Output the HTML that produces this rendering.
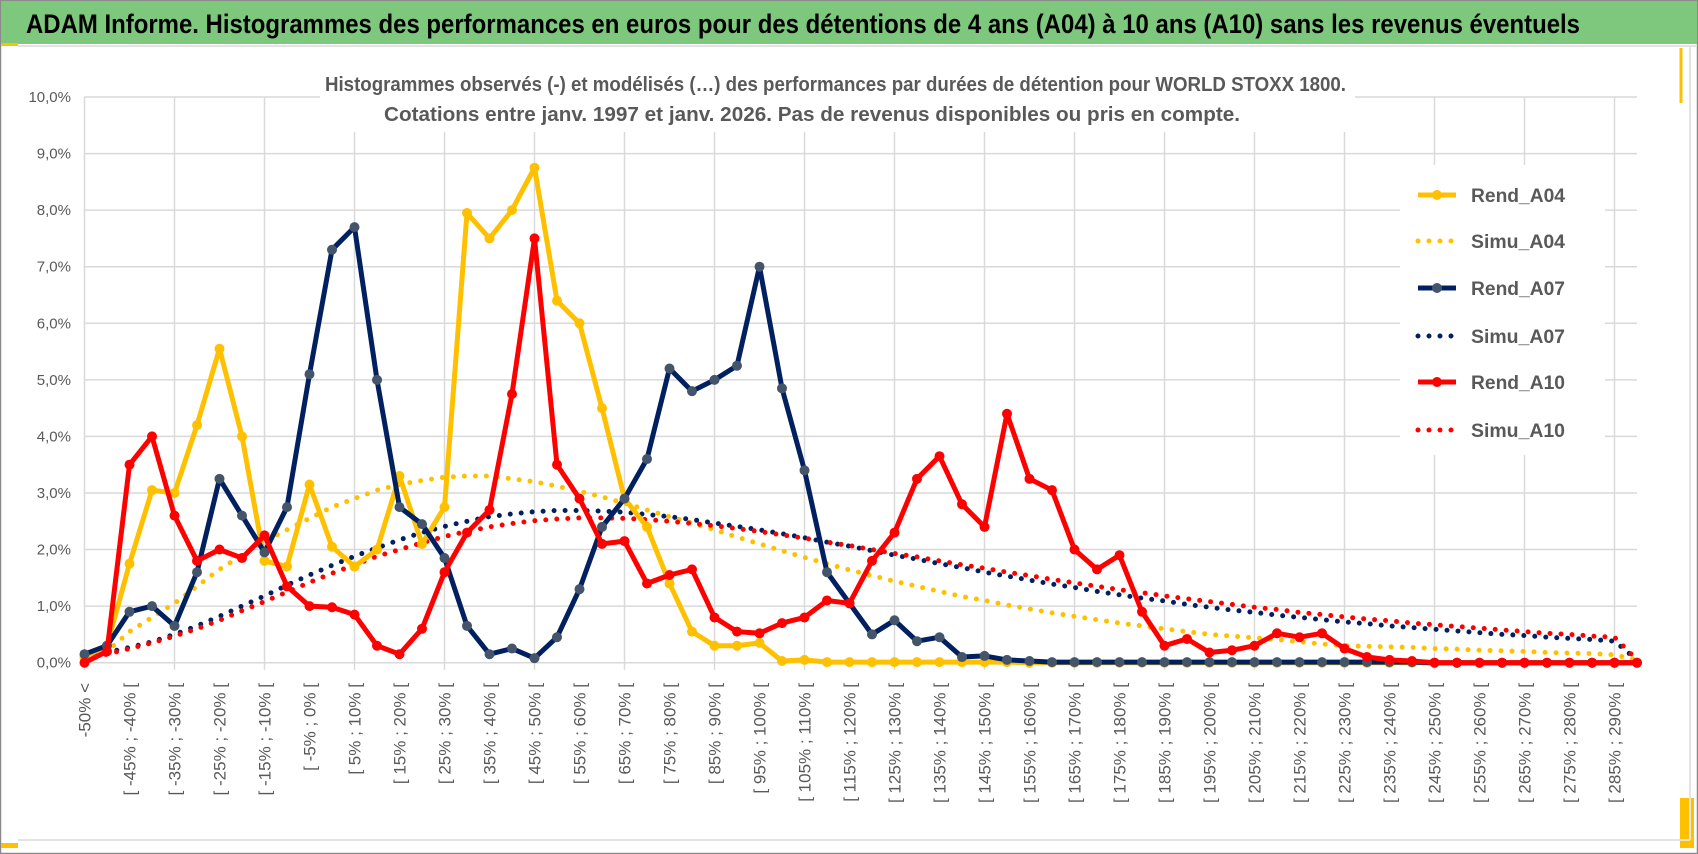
<!DOCTYPE html>
<html><head><meta charset="utf-8"><style>
html,body{margin:0;padding:0;background:#fff;}
svg{display:block;font-family:"Liberation Sans",sans-serif;}
</style></head><body>
<svg id="chart" width="1698" height="854" viewBox="0 0 1698 854">
<rect x="0" y="0" width="1698" height="854" fill="#fff"/>
<rect x="0.5" y="0.5" width="1697" height="853" fill="none" stroke="#8a8a8a" stroke-width="1.5"/>
<rect x="1" y="1" width="1696" height="43" fill="#7EC87D"/>
<rect x="1" y="43" width="17" height="3" fill="#FFC000"/>
<line x1="18" y1="46" x2="1697" y2="46" stroke="#e3e3e3" stroke-width="2"/>
<line x1="1681" y1="48" x2="1681" y2="103" stroke="#FFC000" stroke-width="3"/>
<rect x="1680" y="798" width="14" height="50" fill="#FFC000"/>
<rect x="1" y="843" width="17" height="5" fill="#FFC000"/>
<line x1="18" y1="840" x2="1690" y2="840" stroke="#e3e3e3" stroke-width="2"/>
<line x1="1690" y1="46" x2="1690" y2="840" stroke="#e3e3e3" stroke-width="2"/>
<text x="26" y="33" font-size="27" font-weight="bold" fill="#000" textLength="1554" lengthAdjust="spacingAndGlyphs">ADAM Informe. Histogrammes des performances en euros pour des détentions de 4 ans (A04) à 10 ans (A10) sans les revenus éventuels</text>
<g id="grid"></g>
<g id="yaxis"></g>
<g id="xaxis"></g>
<rect x="320" y="62" width="1035" height="70" fill="#fff"/>
<text x="325" y="91" font-size="20" font-weight="bold" fill="#595959" textLength="1021" lengthAdjust="spacingAndGlyphs">Histogrammes observés (-) et modélisés (…) des performances par durées de détention pour WORLD STOXX 1800.</text>
<text x="384" y="121" font-size="20" font-weight="bold" fill="#595959" textLength="856" lengthAdjust="spacingAndGlyphs">Cotations entre janv. 1997 et janv. 2026. Pas de revenus disponibles ou pris en compte.</text>
<rect x="1400" y="165" width="205" height="290" fill="#fff"/>
<g id="series"></g>
<g id="legend"></g>
</svg>
<script>
const NS="http://www.w3.org/2000/svg";
const categories=[];
for(let i=0;i<70;i++){categories.push(i===0?"-50% <":"[ "+(-55+5*i)+"% ; "+(-50+5*i)+"% [");}
const yTicks=[0,1,2,3,4,5,6,7,8,9,10];
const yTickLabels=["0,0%","1,0%","2,0%","3,0%","4,0%","5,0%","6,0%","7,0%","8,0%","9,0%","10,0%"];
const rendA04=[0.1,0.3,1.75,3.05,3.0,4.2,5.55,4.0,1.8,1.7,3.15,2.05,1.7,2.0,3.3,2.1,2.75,7.95,7.5,8.0,8.75,6.4,6.0,4.5,2.9,2.4,1.4,0.55,0.3,0.3,0.35,0.03,0.05,0.01,0.01,0.01,0.01,0.01,0.01,0.01,0.01,0.01,0,0,0,0,0,0,0,0,0,0,0,0,0,0,0,0,0,0,0,0,0,0,0,0,0,0,0,0];
const rendA07=[0.15,0.3,0.9,1.0,0.65,1.6,3.25,2.6,1.95,2.75,5.1,7.3,7.7,5.0,2.75,2.45,1.85,0.65,0.15,0.25,0.08,0.45,1.3,2.4,2.9,3.6,5.2,4.8,5.0,5.25,7.0,4.85,3.4,1.6,1.05,0.5,0.75,0.38,0.45,0.1,0.12,0.05,0.03,0.01,0.01,0.01,0.01,0.01,0.01,0.01,0.01,0.01,0.01,0.01,0.01,0.01,0.01,0.01,0.01,0.01,0,0,0,0,0,0,0,0,0,0];
const rendA10=[0.0,0.2,3.5,4.0,2.6,1.8,2.0,1.85,2.25,1.35,1.0,0.98,0.85,0.3,0.15,0.6,1.6,2.3,2.7,4.75,7.5,3.5,2.9,2.1,2.15,1.4,1.55,1.65,0.8,0.55,0.52,0.7,0.8,1.1,1.05,1.8,2.3,3.25,3.65,2.8,2.4,4.4,3.25,3.05,2.0,1.65,1.9,0.9,0.3,0.42,0.18,0.22,0.3,0.52,0.45,0.52,0.25,0.1,0.05,0.03,0,0,0,0,0,0,0,0,0,0];
const simuA04=[0.05,0.2,0.55,0.8,1.05,1.35,1.65,1.9,2.15,2.35,2.55,2.75,2.9,3.05,3.15,3.22,3.28,3.3,3.3,3.25,3.2,3.12,3.03,2.93,2.82,2.7,2.58,2.47,2.35,2.22,2.1,1.98,1.86,1.75,1.64,1.54,1.44,1.35,1.26,1.17,1.1,1.02,0.95,0.88,0.82,0.76,0.7,0.65,0.6,0.55,0.5,0.47,0.44,0.41,0.37,0.33,0.3,0.29,0.28,0.27,0.25,0.24,0.22,0.21,0.2,0.18,0.17,0.16,0.14,0.05];
const simuA07=[0.1,0.18,0.27,0.37,0.5,0.65,0.82,1.0,1.18,1.37,1.55,1.72,1.88,2.03,2.17,2.3,2.41,2.5,2.58,2.63,2.67,2.69,2.69,2.68,2.66,2.62,2.58,2.53,2.47,2.41,2.35,2.28,2.21,2.13,2.06,1.98,1.9,1.83,1.75,1.68,1.6,1.53,1.46,1.39,1.33,1.26,1.2,1.14,1.09,1.03,0.98,0.93,0.89,0.84,0.8,0.76,0.72,0.69,0.65,0.62,0.59,0.56,0.53,0.5,0.48,0.45,0.43,0.41,0.38,0.05];
const simuA10=[0.05,0.15,0.25,0.35,0.47,0.6,0.75,0.92,1.08,1.25,1.42,1.58,1.73,1.88,2.0,2.12,2.23,2.32,2.4,2.46,2.51,2.54,2.56,2.56,2.55,2.53,2.5,2.46,2.42,2.37,2.32,2.26,2.2,2.13,2.07,2.0,1.93,1.87,1.8,1.73,1.67,1.6,1.54,1.47,1.41,1.35,1.29,1.24,1.18,1.13,1.08,1.03,0.98,0.94,0.89,0.85,0.81,0.77,0.74,0.7,0.67,0.64,0.61,0.58,0.55,0.52,0.5,0.47,0.45,0.05];
const legendNames=["Rend_A04","Simu_A04","Rend_A07","Simu_A07","Rend_A10","Simu_A10"];

const X0=84.5, XSTEP=22.5, Y0=662.7, YPER=56.57;
function xPos(i){return X0+i*XSTEP;}
function yPos(v){return Y0-v*YPER;}
function mk(tag,attrs,parent){const e=document.createElementNS(NS,tag);for(const k in attrs)e.setAttribute(k,attrs[k]);parent.appendChild(e);return e;}

const grid=document.getElementById('grid');
yTicks.forEach(t=>{
  const l=mk('line',{x1:xPos(0),x2:xPos(69),y1:yPos(t),y2:yPos(t),stroke:'#d9d9d9','stroke-width':1.5},grid);
  
  
});
for(let i=0;i<70;i+=4){
  const l=mk('line',{x1:xPos(i),x2:xPos(i),y1:yPos(10),y2:Y0+7,stroke:'#d9d9d9','stroke-width':1.5},grid);
  
  
}
const ya=document.getElementById('yaxis');
yTicks.forEach((t,k)=>{
  const tx=mk('text',{x:71,y:yPos(t)+5,'font-size':15,fill:'#595959','text-anchor':'end'},ya);
  tx.textContent=yTickLabels[k];
  
  
});
const xa=document.getElementById('xaxis');
categories.forEach((c,i)=>{
  if(i%2) return;
  const x=xPos(i)+6, y=683;
  const tx=mk('text',{x:x,y:y,'font-size':17,fill:'#595959','text-anchor':'end',transform:`rotate(-90 ${x} ${y})`},xa);
  tx.textContent=c;
  
  
});

const S=document.getElementById('series');
function pathD(arr){return arr.map((v,i)=>(i?'L':'M')+xPos(i).toFixed(1)+' '+yPos(v).toFixed(1)).join(' ');}
function dotted(arr,color,name){
  const p=mk('path',{d:pathD(arr),fill:'none',stroke:color,'stroke-width':5,'stroke-linecap':'round','stroke-dasharray':'0 11'},S);
  
  
}
function solid(arr,color,mcolor,name){
  const g=mk('g',{},S);
  
  
  mk('path',{d:pathD(arr),fill:'none',stroke:color,'stroke-width':5,'stroke-linejoin':'round'},g);
  arr.forEach((v,i)=>{
    const c=mk('circle',{cx:xPos(i),cy:yPos(v),r:5,fill:mcolor},g);
    
    
  });
}
dotted(simuA04,'#FFC000','simu-a04-line');
dotted(simuA07,'#002060','simu-a07-line');
dotted(simuA10,'#FF0000','simu-a10-line');
solid(rendA04,'#FFC000','#FFC000','rend-a04-line');
solid(rendA07,'#002060','#44546A','rend-a07-line');
solid(rendA10,'#FF0000','#FF0000','rend-a10-line');

const L=document.getElementById('legend');
const lcol=['#FFC000','#FFC000','#002060','#002060','#FF0000','#FF0000'];
const ly=[195,241,288,336,382,430];
legendNames.forEach((n,k)=>{
  const g=mk('g',{},L);
  
  
  const dot=k%2===1;
  const at={x1:1418,x2:1456,y1:ly[k],y2:ly[k],stroke:lcol[k],'stroke-width':5};
  if(dot){at['stroke-linecap']='round';at['stroke-dasharray']='0 11';}
  mk('line',at,g);
  if(!dot) mk('circle',{cx:1437,cy:ly[k],r:5,fill:k===2?'#44546A':lcol[k]},g);
  const t=mk('text',{x:1471,y:ly[k]+7,'font-size':19,'font-weight':'bold',fill:'#595959',textLength:94,lengthAdjust:'spacingAndGlyphs'},g);
  t.textContent=n;
});
</script>
</body></html>
